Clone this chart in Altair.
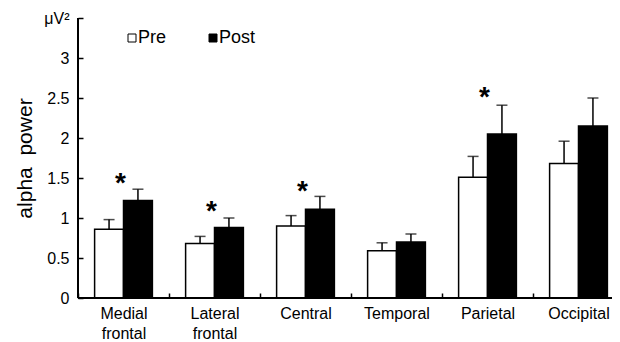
import altair as alt
import pandas as pd

regions = ["Medial frontal", "Lateral frontal", "Central", "Temporal", "Parietal", "Occipital"]
conditions = ["Pre", "Post"]
pre_mean = [0.86, 0.68, 0.90, 0.59, 1.51, 1.68]
pre_err = [0.12, 0.09, 0.13, 0.10, 0.26, 0.28]
post_mean = [1.22, 0.88, 1.11, 0.70, 2.05, 2.15]
post_err = [0.14, 0.12, 0.16, 0.10, 0.36, 0.35]
star_regions = ["Medial frontal", "Lateral frontal", "Central", "Parietal"]
star_y = [1.53, 1.18, 1.43, 2.60]
y_ticks = [0, 0.5, 1, 1.5, 2, 2.5, 3, 3.5]

rows = []
for i, r in enumerate(regions):
    rows.append({"region": r, "cond": "Pre", "mean": pre_mean[i], "hi": pre_mean[i] + pre_err[i]})
    rows.append({"region": r, "cond": "Post", "mean": post_mean[i], "hi": post_mean[i] + post_err[i]})
df = pd.DataFrame(rows)
stars = pd.DataFrame({"region": star_regions, "y": star_y, "t": ["*"] * len(star_regions)})

FONT = "Liberation Sans"

x_scale = alt.Scale(domain=regions, range=[0, 546], paddingInner=0, paddingOuter=0)
xo_scale = alt.Scale(domain=conditions, paddingInner=0, paddingOuter=0.575)
y_scale = alt.Scale(domain=[0, 3.5], nice=False, zero=True)

x_axis = alt.Axis(
    title="",
    orient="bottom",
    offset=-5,
    tickSize=5,
    tickWidth=1.5,
    tickColor="black",
    tickBand="extent",
    domain=False,
    labelAngle=0,
    labelFontSize=16,
    labelColor="black",
    labelPadding=7,
    labelLineHeight=20,
    labelOverlap=False,
    labelExpr="split(datum.label, ' ')",
)
y_axis = alt.Axis(
    title="alpha\u00a0\u00a0power",
    titleFontSize=21,
    titleFontWeight="normal",
    titleColor="black",
    titleX=-48,
    titleY=140,
    values=y_ticks,
    offset=-5,
    tickSize=5,
    tickWidth=1.5,
    tickColor="black",
    domain=False,
    grid=False,
    labelFontSize=16,
    labelColor="black",
    labelPadding=9,
    labelOverlap=False,
    labelBound=False,
    labelFlush=False,
    labelExpr="datum.value == 3.5 ? 'μV²' : format(datum.value, '~g')",
)


def X():
    return alt.X("region:N", sort=regions, scale=x_scale, axis=x_axis)


def Y(field):
    return alt.Y(field, scale=y_scale, axis=y_axis)


xo_enc = alt.XOffset("cond:N", sort=conditions, scale=xo_scale)

bars = alt.Chart(df).mark_bar(stroke="black", strokeWidth=1.5).encode(
    x=X(),
    xOffset=xo_enc,
    y=Y("mean:Q"),
    fill=alt.Fill(
        "cond:N",
        sort=conditions,
        scale=alt.Scale(domain=conditions, range=["white", "black"]),
        legend=alt.Legend(
            title=None,
            orient="none",
            legendX=45,
            legendY=11,
            direction="horizontal",
            symbolType="square",
            symbolSize=64,
            symbolStrokeColor="black",
            symbolStrokeWidth=1,
            labelFontSize=18,
            labelColor="black",
            labelOffset={"expr": "-3"},
            columnPadding=37,
            padding=0,
        ),
    ),
)

err = alt.Chart(df).mark_rule(color="black", strokeWidth=1.5).encode(
    x=X(),
    xOffset=xo_enc,
    y=Y("mean:Q"),
    y2="hi:Q",
)
caps = alt.Chart(df).mark_tick(color="black", thickness=1.5, size=11, orient="horizontal").encode(
    x=X(),
    xOffset=xo_enc,
    y=Y("hi:Q"),
)
star_text = alt.Chart(stars).mark_text(
    fontSize=28, fontWeight="bold", color="black", baseline="middle", dy=8, dx=-3
).encode(
    x=X(),
    y=Y("y:Q"),
    text="t:N",
)
y_line = alt.Chart(df).mark_rule(color="black", strokeWidth=1.5).encode(
    x=alt.value(0), y=alt.value(0), y2=alt.value("height")
)
x_line = alt.Chart(df).mark_rule(color="black", strokeWidth=1.5).encode(
    x=alt.value(0), x2=alt.value("width"), y=alt.value("height")
)

chart = (
    alt.layer(bars, err, caps, star_text, y_line, x_line)
    .properties(
        width=534,
        height=280,
        autosize=alt.AutoSizeParams(type="none"),
        padding={"left": 70, "top": 10, "right": 0, "bottom": 44},
    )
    .configure(font=FONT)
    .configure_view(stroke=None)
)

chart.save("out.html", embed_options={"renderer": "svg", "actions": False})
